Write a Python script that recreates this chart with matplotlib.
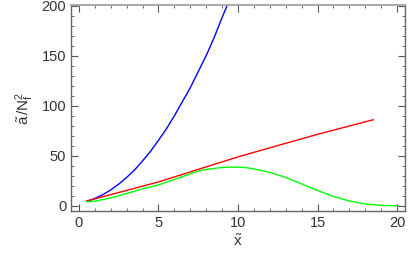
import matplotlib
matplotlib.use("Agg")
import matplotlib.pyplot as plt
from matplotlib.ticker import MultipleLocator

plt.rcParams['font.family'] = ['Liberation Sans', 'DejaVu Sans']
plt.rcParams['mathtext.fontset'] = 'custom'
plt.rcParams['mathtext.rm'] = 'Liberation Sans'
plt.rcParams['mathtext.it'] = 'Liberation Sans:italic'

# data
blue_x = [0.5, 1, 1.5, 2, 2.5, 3, 3.5, 4, 4.5, 5, 5.5, 6, 6.5, 7, 7.5, 8, 8.5, 9, 9.5]
blue_y = [4.8, 7.5, 11.3, 16, 21.8, 28.5, 36, 45, 54.5, 65.5, 77, 90, 104, 118, 134, 150, 168, 188, 207]

red_x = [0.5, 5, 10, 15, 18.5]
red_y = [5, 24, 49, 71.5, 86]

green_x = [0.5, 1, 2, 3, 4, 5, 6, 7, 7.5, 8, 9, 9.8, 10.5, 11, 12, 13, 14, 15, 16, 17, 18, 19, 20]
green_y = [4.3, 4.8, 8, 12.5, 17, 21, 26.5, 32, 34.8, 36.5, 38.4, 38.8, 38.3, 37, 33.5, 28.5,
           22, 15.5, 9.5, 5, 2, 0.6, 0.2]

xticks = [0, 5, 10, 15, 20]
yticks = [0, 50, 100, 150, 200]

fig = plt.figure(figsize=(4.16, 2.57), dpi=100)
ax = fig.add_axes([71/416, 1 - 211/257, (405 - 71)/416, (211 - 5)/257])

ax.plot(blue_x, blue_y, color=(0, 0, 1), lw=1.0)
ax.plot(red_x, red_y, color=(1, 0, 0), lw=1.0)
ax.plot(green_x, green_y, color=(0, 1, 0), lw=1.0)

ax.set_xlim(-0.5, 20.5)
ax.set_ylim(-5, 200.5)
ax.set_xticks(xticks)
ax.set_yticks(yticks)
ax.xaxis.set_minor_locator(MultipleLocator(1))
ax.yaxis.set_minor_locator(MultipleLocator(10))

ax.tick_params(which='both', direction='in', top=True, right=True, colors='#555555',
               labelcolor='#333333', labelsize=10.5)
ax.tick_params(which='major', length=5, width=0.8)
ax.tick_params(which='minor', length=2.5, width=0.6)
for s in ax.spines.values():
    s.set_color('#666666')
    s.set_linewidth(1.0)
ax.spines['top'].set_color('#aaaaaa')
ax.spines['top'].set_linewidth(1.5)

ax.set_xlabel(r'$\tilde{\mathrm{x}}$', fontsize=11, color='#333333', labelpad=2)
ax.set_ylabel(r'$\tilde{\mathrm{a}}\,/\mathrm{N}_\mathrm{f}^2$', fontsize=11, color='#333333', labelpad=4)

fig.savefig('out.png', dpi=100)
